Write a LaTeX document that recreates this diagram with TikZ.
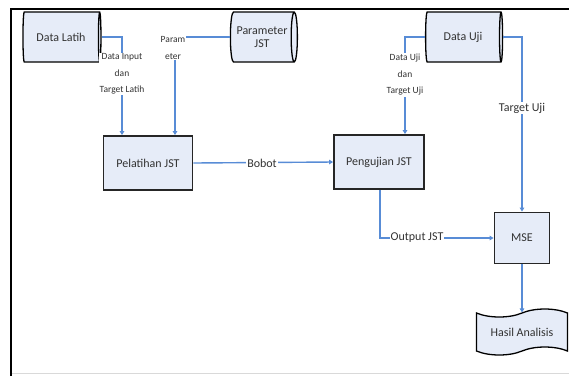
\documentclass[tikz,border=0pt]{standalone}
\usepackage{fontspec}
\setmainfont{Carlito}
\usetikzlibrary{arrows.meta, shapes.geometric, shapes.symbols}

\definecolor{boxfill}{RGB}{230,236,248}
\definecolor{flow}{RGB}{88,140,214}

\begin{document}
\begin{tikzpicture}[
    x=1pt, y=-1pt,
    box/.style={draw=black!85, line width=1.8pt, fill=boxfill, text=black!80,
        font=\fontsize{12}{13}\selectfont},
    store/.style={cylinder, draw=black, line width=1.3pt, fill=boxfill, text=black!80,
        shape aspect=0.3, font=\fontsize{12}{13}\selectfont, align=center, inner sep=0pt},
    flowline/.style={flow, line width=1.4pt, -{Triangle[length=4pt,width=4.5pt]}},
    tag/.style={fill=white, text=black!80, font=\fontsize{9.5}{16.5}\selectfont,
        align=center, inner sep=1pt},
    bigtag/.style={tag, font=\fontsize{12}{13}\selectfont}
]
\useasboundingbox (0,0) rectangle (569,376);

% =========================
% FRAME
% =========================
\draw[black!15] (11,373) -- (569,373);
\draw[line width=2pt] (11,376) -- (11,9) -- (569,9);

% =========================
% DATA STORES
% =========================
\node[store, minimum width=50pt, minimum height=78pt] (lat) at (61,37) {Data Latih};
\node[store, minimum width=50pt, minimum height=67pt] (par) at (262,37) {Parameter\\JST};
\node[store, minimum width=50pt, minimum height=77pt] (uji) at (463,37) {Data Uji};

% =========================
% PROCESSES
% =========================
\node[box, minimum width=89pt, minimum height=54pt] (pel) at (148,163) {Pelatihan JST};
\node[box, minimum width=90pt, minimum height=54pt] (peng) at (379,162) {Pengujian JST};
\node[box, minimum width=55pt, minimum height=51pt] (mse) at (522,238) {MSE};
\node[tape, draw=black, line width=1.3pt, fill=boxfill, text=black!80,
    font=\fontsize{12}{13}\selectfont, minimum width=91pt, minimum height=46pt,
    tape bend height=8pt] (has) at (522,332) {Hasil Analisis};

% =========================
% CONNECTORS
% =========================
\coordinate (c1) at (122,0);
\coordinate (c2) at (175,0);
\coordinate (c3) at (405,0);
\coordinate (c4) at (522,0);
\coordinate (c5) at (380,0);

\draw[flowline] (lat.east) -| (pel.north -| c1);
\draw[flowline] (par.west) -| (pel.north -| c2);
\draw[flowline] (pel.east) -- (peng.west);
\draw[flowline] (uji.west) -| (peng.north -| c3);
\draw[flowline] (uji.east) -| (mse.north -| c4);
\draw[flowline] (peng.south -| c5) |- (mse.west);
\draw[flowline] (mse.south) -- (has.north);

% labels over the lines
\node[tag] (t1) at (122,74) {Data Input\\dan\\Target Latih};
\node[tag] (t2) at (173,48) {Param\\eter};
\node[bigtag] (t3) at (262,163) {Bobot};
\node[tag] (t4) at (405,75) {Data Uji\\dan\\Target Uji};
\node[bigtag] (t5) at (522,108) {Target Uji};
\node[bigtag] (t6) at (417,238) {Output JST};
\end{tikzpicture}
\end{document}
